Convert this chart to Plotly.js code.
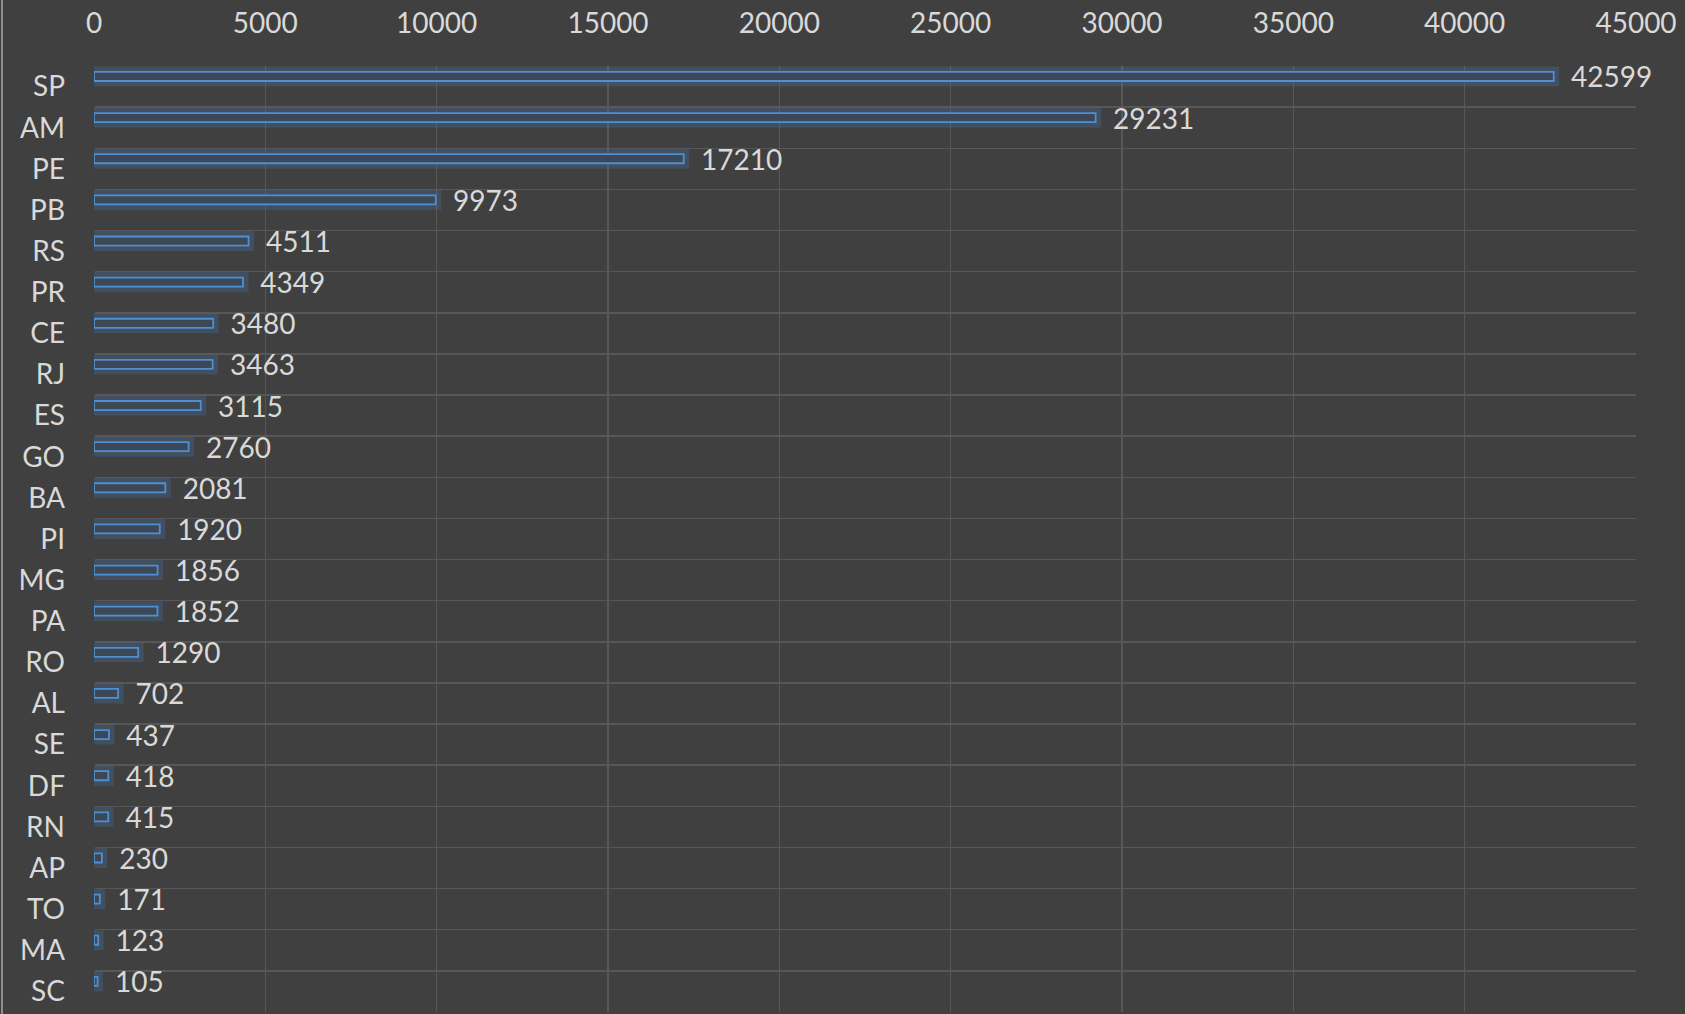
<!DOCTYPE html>
<html>
<head>
<meta charset="utf-8">
<script src="https://cdn.plot.ly/plotly-3.0.1.min.js"></script>
<style>
  html, body { margin: 0; padding: 0; background: #404040; overflow: hidden; }
  #chart { width: 1685px; height: 1014px; }
  #edge { position: absolute; left: 1px; top: 0; width: 2px; height: 1014px; background: #8e8e8e; }
</style>
</head>
<body>
<div id="chart"></div>
<div id="edge"></div>
<script>
const states = ["SP","AM","PE","PB","RS","PR","CE","RJ","ES","GO","BA","PI","MG","PA","RO","AL","SE","DF","RN","AP","TO","MA","SC"];
const cases  = [42599,29231,17210,9973,4511,4349,3480,3463,3115,2760,2081,1920,1856,1852,1290,702,437,418,415,230,171,123,105];
const xTicks = [0,5000,10000,15000,20000,25000,30000,35000,40000,45000];

const textFont = {family: "Lato, 'Open Sans', sans-serif", size: 28, color: "#d9d9d9"};

const glow = {
  type: "bar", orientation: "h",
  x: cases, y: states,
  width: 0.22, offset: -0.355,
  marker: {color: "rgba(60,120,190,0.12)", line: {color: "rgba(70,130,200,0.22)", width: 11}},
  hoverinfo: "skip", showlegend: false
};

const bars = {
  type: "bar", orientation: "h",
  x: cases, y: states,
  width: 0.22, offset: -0.355,
  marker: {color: "#3c4855", line: {color: "#4f8fd4", width: 1.8}},
  text: cases.map(v => "\u00a0\u00a0" + String(v)),
  textposition: "outside",
  constraintext: "none",
  cliponaxis: false,
  textfont: textFont,
  showlegend: false
};

const layout = {
  width: 1685, height: 1014,
  paper_bgcolor: "#404040",
  plot_bgcolor: "#404040",
  margin: {l: 93.5, r: 48.5, t: 65.5, b: 2, pad: 0},
  barmode: "overlay",
  showlegend: false,
  xaxis: {
    side: "top",
    range: [0, 45000],
    tickvals: xTicks,
    ticktext: xTicks.map(String),
    showgrid: true, gridcolor: "#575757", gridwidth: 1.5,
    zeroline: true, zerolinecolor: "#404040", zerolinewidth: 2,
    showline: false, ticks: "",
    ticklabelstandoff: 26,
    tickfont: textFont,
    fixedrange: true
  },
  yaxis: {
    type: "category",
    categoryorder: "array", categoryarray: states,
    autorange: "reversed",
    tickson: "boundaries",
    showgrid: true, gridcolor: "#575757", gridwidth: 1.5,
    showline: false, ticks: "",
    ticklabelstandoff: 28,
    tickfont: textFont,
    fixedrange: true
  }
};

Plotly.newPlot("chart", [glow, bars], layout, {displayModeBar: false, staticPlot: true});
</script>
</body>
</html>
